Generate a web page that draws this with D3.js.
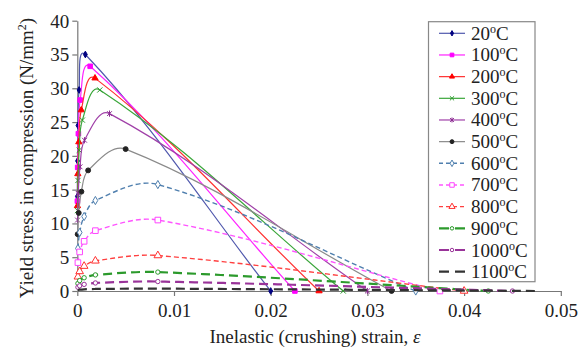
<!DOCTYPE html>
<html><head><meta charset="utf-8">
<script src="https://cdn.jsdelivr.net/npm/d3@7"></script>
<style>
body{margin:0;background:#fff}
svg{display:block}
text{font-family:"Liberation Serif","Times New Roman",Times,serif;fill:#222}
</style>
</head><body>
<svg id="c" width="587" height="352"></svg>
<script>
// ---- data (inelastic strain, stress N/mm2) ----
const temperatures = ["20","100","200","300","400","500","600","700","800","900","1000","1100"];
const xTicks = [0, 0.01, 0.02, 0.03, 0.04, 0.05];
const yTicks = [0, 5, 10, 15, 20, 25, 30, 35, 40];

const c20   = [[0.0000064,14.0],[0.0000244,19.25],[0.0000707,24.5],[0.000187,29.75],[0.000833,35.0],[0.0200,0]];
const c100  = [[0.0000103,13.3],[0.0000391,18.29],[0.000113,23.28],[0.000299,28.26],[0.00133,33.25],[0.0225,0]];
const c200  = [[0.0000141,12.6],[0.0000537,17.33],[0.000156,22.05],[0.000411,26.78],[0.00183,31.5],[0.0250,0]];
const c300  = [[0.0000180,11.9],[0.0000684,16.36],[0.000198,20.83],[0.000524,25.29],[0.00233,29.75],[0.0275,0]];
const c400  = [[0.0000257,10.5],[0.0000977,14.44],[0.000283,18.38],[0.000748,22.31],[0.00333,26.25],[0.0300,0]];
const c500  = [[0.0000386,8.4],[0.000147,11.55],[0.000424,14.7],[0.00112,17.85],[0.0050,21.0],[0.0325,0]];
const c600  = [[0.0000643,6.3],[0.000244,8.66],[0.000707,11.03],[0.00187,13.39],[0.00833,15.75],[0.0350,0]];
const c700  = [[0.0000643,4.2],[0.000244,5.78],[0.000707,7.35],[0.00187,8.93],[0.00833,10.5],[0.0375,0]];
const c800  = [[0.0000643,2.1],[0.000244,2.89],[0.000707,3.68],[0.00187,4.46],[0.00833,5.25],[0.0400,0]];
const c900  = [[0.0000643,1.12],[0.000244,1.54],[0.000707,1.96],[0.00187,2.38],[0.00833,2.8],[0.0425,0]];
const c1000 = [[0.0000643,0.56],[0.000244,0.77],[0.000707,0.98],[0.00187,1.19],[0.00833,1.4],[0.0450,0]];
const c1100 = [[0.0000643,0.14],[0.000244,0.19],[0.000707,0.245],[0.00187,0.30],[0.00833,0.35],[0.0475,0]];
const seriesData = [c20,c100,c200,c300,c400,c500,c600,c700,c800,c900,c1000,c1100];

// ---- styles ----
const styles = [
  {line:"#5058ad", mk:"#000080", shape:"diamond", fill:true,  dash:null,  w:1.2},
  {line:"#ff22ff", mk:"#ff00ff", shape:"square",  fill:true,  dash:null,  w:1.2},
  {line:"#ff3030", mk:"#ff0000", shape:"triangle",fill:true,  dash:null,  w:1.2},
  {line:"#3aa63a", mk:"#2c9a2c", shape:"x",       fill:false, dash:null,  w:1.2},
  {line:"#a040a8", mk:"#8a2a90", shape:"star",    fill:false, dash:null,  w:1.2},
  {line:"#8a8a8a", mk:"#222222", shape:"circle",  fill:true,  dash:null,  w:1.2},
  {line:"#4f7fae", mk:"#4f7fae", shape:"diamond", fill:false, dash:"5,3", w:1.4},
  {line:"#ff55ff", mk:"#ff44ff", shape:"square",  fill:false, dash:"5,3", w:1.4},
  {line:"#ff4040", mk:"#ff3030", shape:"triangle",fill:false, dash:"5,3", w:1.4},
  {line:"#2c9a2c", mk:"#2c9a2c", shape:"circle",  fill:false, dash:"9,5", w:2.2},
  {line:"#993399", mk:"#993399", shape:"circle",  fill:false, dash:"9,5", w:2.2},
  {line:"#333333", mk:"#333333", shape:null,      fill:false, dash:"9,5", w:2.2}
];

const svg = d3.select("#c");
const x = d3.scaleLinear().domain([0, 0.05]).range([77.3, 560.8]);
const y = d3.scaleLinear().domain([0, 40]).range([291, 20.7]);
const axisColor = "#777";

// axes
const gx = svg.append("g").attr("transform", `translate(0,${y(0)})`)
  .call(d3.axisBottom(x).tickValues(xTicks).tickSize(5).tickSizeOuter(0)
    .tickFormat(d => d === 0 ? "0" : d3.format(".2f")(d)));
const gy = svg.append("g").attr("transform", `translate(${x(0)},0)`)
  .call(d3.axisLeft(y).tickValues(yTicks).tickSize(5).tickSizeOuter(0).tickFormat(d3.format("d")));
[gx, gy].forEach(g => {
  g.select(".domain").attr("stroke", axisColor).attr("stroke-width", 1.2);
  g.selectAll(".tick line").attr("stroke", axisColor).attr("stroke-width", 1.2);
  g.selectAll(".tick text").attr("font-size", 19).attr("fill", "#222")
    .attr("font-family", '"Liberation Serif","Times New Roman",serif');
});
gx.selectAll(".tick text").attr("dy", "0.95em");
gy.selectAll(".tick text").attr("x", -8).attr("dy", "0.34em");

// axis titles
const xt = svg.append("text").attr("x", 315).attr("y", 343).attr("text-anchor", "middle").attr("font-size", 19);
xt.append("tspan").text("Inelastic (crushing) strain, ");
xt.append("tspan").attr("font-style", "italic").text("ε");

const yt = svg.append("text").attr("transform", "translate(33,158) rotate(-90)")
  .attr("text-anchor", "middle").attr("font-size", 19);
yt.append("tspan").text("Yield stress in compression (N/mm");
yt.append("tspan").attr("font-size", 12).attr("dy", -7).text("2");
yt.append("tspan").attr("dy", 7).text(")");

// symbols
const symArea = {diamond: 13, square: 21, triangle: 17, circle: 19};
function symPath(st, k) {
  const shape = st.shape;
  if (shape === "x") { const s = 2.6 * k; return `M${-s},${-s}L${s},${s}M${-s},${s}L${s},${-s}`; }
  if (shape === "star") { const s = 2.4 * k; return `M${-s},${-s}L${s},${s}M${-s},${s}L${s},${-s}M0,${-s*1.3}L0,${s*1.3}`; }
  const map = {diamond: d3.symbolDiamond, square: d3.symbolSquare, triangle: d3.symbolTriangle, circle: d3.symbolCircle};
  let a = symArea[shape];
  if (shape === "circle" && !st.fill) a = 15;
  if (!st.fill && shape !== "circle") a *= 1.5;
  return d3.symbol().type(map[shape]).size(a * k * k)();
}
function drawMarker(g, st, px, py, k) {
  if (!st.shape) return;
  const open = st.shape === "x" || st.shape === "star";
  g.append("path").attr("d", symPath(st, k))
    .attr("transform", `translate(${px},${py})`)
    .attr("fill", open ? "none" : (st.fill ? st.mk : "#fff"))
    .attr("stroke", st.mk).attr("stroke-width", 1);
}

// Excel-like smoothing: Bezier with tangent direction from neighbours, control length = segment/3
function smoothPath(data) {
  const p = data.map(d => [x(d[0]), y(d[1])]);
  const n = p.length;
  const unit = (a, b) => { const dx = b[0] - a[0], dy = b[1] - a[1], l = Math.hypot(dx, dy) || 1; return [dx / l, dy / l]; };
  const t = p.map((_, i) => i === 0 ? unit(p[0], p[1]) : i === n - 1 ? unit(p[n - 2], p[n - 1]) : unit(p[i - 1], p[i + 1]));
  const path = d3.path();
  path.moveTo(p[0][0], p[0][1]);
  for (let i = 0; i < n - 1; i++) {
    const L = Math.hypot(p[i + 1][0] - p[i][0], p[i + 1][1] - p[i][1]) / 3;
    path.bezierCurveTo(p[i][0] + t[i][0] * L, p[i][1] + t[i][1] * L,
                       p[i + 1][0] - t[i + 1][0] * L, p[i + 1][1] - t[i + 1][1] * L,
                       p[i + 1][0], p[i + 1][1]);
  }
  return path.toString();
}

const plot = svg.append("g");
seriesData.forEach((data, i) => {
  const st = styles[i];
  const g = plot.append("g");
  g.append("path").attr("d", smoothPath(data)).attr("fill", "none")
    .attr("stroke", st.line).attr("stroke-width", st.w)
    .attr("stroke-dasharray", st.dash);
  data.forEach(d => drawMarker(g, st, x(d[0]), y(d[1]), 1));
});

// legend
const lg = svg.append("g");
lg.append("rect").attr("x", 428.5).attr("y", 21.7).attr("width", 106.5).attr("height", 260)
  .attr("fill", "#fff").attr("stroke", "#888").attr("stroke-width", 1.2);
temperatures.forEach((t, i) => {
  const st = styles[i];
  const ry = 33.3 + i * 21.67;
  const g = lg.append("g");
  g.append("line").attr("x1", 439).attr("x2", 465).attr("y1", ry).attr("y2", ry)
    .attr("stroke", st.line).attr("stroke-width", st.w)
    .attr("stroke-dasharray", st.dash ? (i >= 9 ? "10,6" : "4,3") : null);
  drawMarker(g, st, 452, ry, 0.8);
  const tx = g.append("text").attr("x", 471).attr("y", ry + 6.5).attr("font-size", 19);
  tx.append("tspan").text(t);
  tx.append("tspan").attr("font-size", 12).attr("dy", -7).text("o");
  tx.append("tspan").attr("dy", 7).text("C");
});
</script>
</body></html>
